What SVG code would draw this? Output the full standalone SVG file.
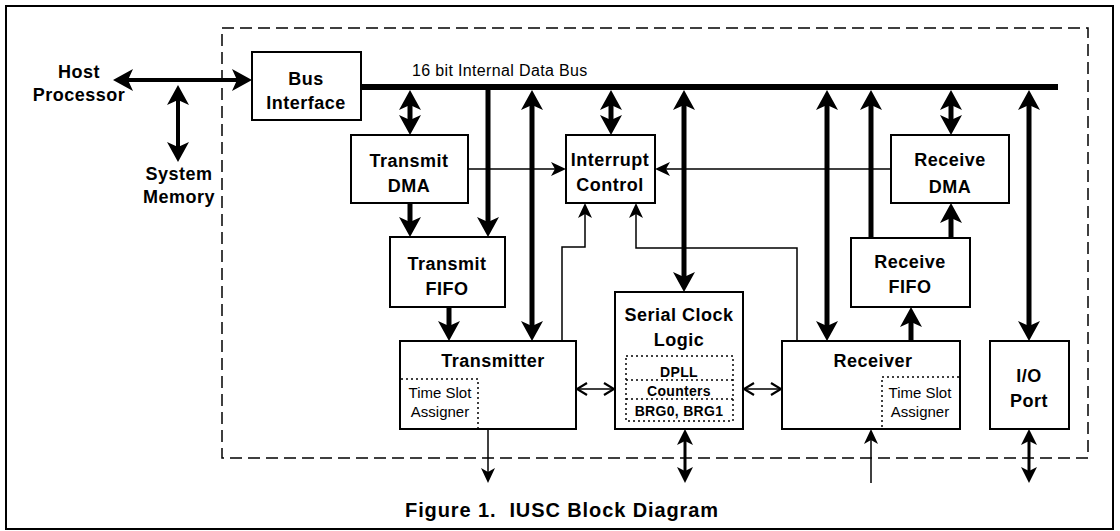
<svg xmlns="http://www.w3.org/2000/svg" width="1120" height="531" viewBox="0 0 1120 531">
<style>
.box{fill:#fff;stroke:#000;stroke-width:2}
.lbl{font-family:"Liberation Sans",Arial,sans-serif;font-weight:bold;font-size:18px;letter-spacing:0.5px;text-anchor:middle;fill:#000}
.sm{font-family:"Liberation Sans",Arial,sans-serif;font-size:15px;text-anchor:middle;fill:#000}
.smb{font-family:"Liberation Sans",Arial,sans-serif;font-weight:bold;font-size:14px;letter-spacing:0.3px;text-anchor:middle;fill:#000}
.dot{fill:none;stroke:#000;stroke-width:1.5;stroke-dasharray:2 3}
.thick{fill:none;stroke:#000;stroke-width:5}
.med{fill:none;stroke:#000;stroke-width:3}
.thin{fill:none;stroke:#000;stroke-width:1.5}
</style>
<defs>
<marker id="ab" markerUnits="userSpaceOnUse" markerWidth="20" markerHeight="22" viewBox="0 0 20 22" refX="5" refY="11" orient="auto-start-reverse"><path d="M0,0 L20,11 L0,22 L5,11 z" fill="#000"/></marker>
<marker id="am" markerUnits="userSpaceOnUse" markerWidth="16" markerHeight="16" viewBox="0 0 16 16" refX="4" refY="8" orient="auto-start-reverse"><path d="M0,0 L16,8 L0,16 L4,8 z" fill="#000"/></marker>
<marker id="as" markerUnits="userSpaceOnUse" markerWidth="15" markerHeight="14" viewBox="0 0 15 14" refX="4" refY="7" orient="auto-start-reverse"><path d="M0,0 L15,7 L0,14 L4,7 z" fill="#000"/></marker>
<marker id="ao" markerUnits="userSpaceOnUse" markerWidth="14" markerHeight="14" viewBox="0 0 14 14" refX="12" refY="7" orient="auto-start-reverse"><path d="M2,1 L12,7 L2,13" fill="none" stroke="#000" stroke-width="2.2"/></marker>
</defs>
<rect x="6" y="6" width="1107" height="523" fill="#fff" stroke="#000" stroke-width="2"/>
<rect x="222" y="28" width="866" height="430" fill="none" stroke="#000" stroke-width="1.5" stroke-dasharray="12 6"/>

<g id="connectors">
<line class="thick" x1="128" y1="80" x2="237" y2="80" marker-start="url(#ab)" marker-end="url(#ab)" style="stroke-width:4"/>
<line class="thick" x1="178" y1="100" x2="178" y2="147" marker-start="url(#ab)" marker-end="url(#ab)" style="stroke-width:4"/>
<line x1="361" y1="87" x2="1058" y2="87" stroke="#000" stroke-width="6"/>
<line class="thick" x1="410" y1="105" x2="410" y2="120" marker-start="url(#ab)" marker-end="url(#ab)"/>
<line class="thick" x1="410" y1="203" x2="410" y2="222" marker-end="url(#ab)"/>
<line class="thick" x1="488" y1="87" x2="488" y2="222" marker-end="url(#ab)"/>
<line class="thick" x1="532" y1="105" x2="532" y2="326" marker-start="url(#ab)" marker-end="url(#ab)"/>
<line class="thin" x1="468" y1="169" x2="555" y2="169" marker-end="url(#as)"/>
<line class="thick" x1="611" y1="105" x2="611" y2="120" marker-start="url(#ab)" marker-end="url(#ab)"/>
<line class="thick" x1="684" y1="105" x2="684" y2="277" marker-start="url(#ab)" marker-end="url(#ab)"/>
<line class="thin" x1="891" y1="169" x2="666" y2="169" marker-end="url(#as)"/>
<path class="thin" d="M562,341 V247 H585 V214" marker-end="url(#as)"/>
<path class="thin" d="M797,341 V248 H636 V214" marker-end="url(#as)"/>
<line class="thick" x1="827" y1="105" x2="827" y2="326" marker-start="url(#ab)" marker-end="url(#ab)"/>
<line class="thick" x1="871" y1="238" x2="871" y2="105" marker-end="url(#ab)"/>
<line class="thick" x1="951" y1="238" x2="951" y2="218" marker-end="url(#ab)"/>
<line class="thick" x1="951" y1="105" x2="951" y2="120" marker-start="url(#ab)" marker-end="url(#ab)"/>
<line class="thick" x1="911" y1="341" x2="911" y2="322" marker-end="url(#ab)"/>
<line class="thick" x1="1029" y1="105" x2="1029" y2="326" marker-start="url(#ab)" marker-end="url(#ab)"/>
<line class="thick" x1="449" y1="307" x2="449" y2="326" marker-end="url(#ab)"/>
<line class="thin" x1="488" y1="429" x2="488" y2="472" marker-end="url(#as)"/>
<line class="thin" x1="577" y1="389" x2="614" y2="389" marker-start="url(#ao)" marker-end="url(#ao)"/>
<line class="thin" x1="744" y1="389" x2="781" y2="389" marker-start="url(#ao)" marker-end="url(#ao)"/>
<line class="med" x1="685" y1="441" x2="685" y2="471" marker-start="url(#am)" marker-end="url(#am)"/>
<line class="thin" x1="871" y1="483" x2="871" y2="440" marker-end="url(#as)"/>
<line class="med" x1="1029" y1="441" x2="1029" y2="471" marker-start="url(#am)" marker-end="url(#am)"/>
</g>

<g id="host">
<text class="lbl" x="79" y="78">Host</text>
<text class="lbl" x="79" y="101">Processor</text>
</g>
<g id="memory">
<text class="lbl" x="179" y="180">System</text>
<text class="lbl" x="179" y="203">Memory</text>
</g>
<text id="buslabel" x="412" y="76" font-family="Liberation Sans, Arial, sans-serif" font-size="16" letter-spacing="0.35">16 bit Internal Data Bus</text>

<g id="bus-interface">
<rect class="box" x="252" y="52" width="109" height="68"/>
<text class="lbl" x="306" y="85">Bus</text>
<text class="lbl" x="306" y="109">Interface</text>
</g>
<g id="transmit-dma">
<rect class="box" x="351" y="135" width="117" height="68"/>
<text class="lbl" x="409" y="167">Transmit</text>
<text class="lbl" x="409" y="192">DMA</text>
</g>
<g id="transmit-fifo">
<rect class="box" x="390" y="237" width="115" height="70"/>
<text class="lbl" x="447" y="270">Transmit</text>
<text class="lbl" x="447" y="295">FIFO</text>
</g>
<g id="interrupt-control">
<rect class="box" x="566" y="135" width="89" height="68"/>
<text class="lbl" x="610" y="166">Interrupt</text>
<text class="lbl" x="610" y="191">Control</text>
</g>
<g id="receive-dma">
<rect class="box" x="891" y="135" width="118" height="68"/>
<text class="lbl" x="950" y="166">Receive</text>
<text class="lbl" x="950" y="193">DMA</text>
</g>
<g id="receive-fifo">
<rect class="box" x="851" y="238" width="119" height="69"/>
<text class="lbl" x="910" y="268">Receive</text>
<text class="lbl" x="910" y="293">FIFO</text>
</g>
<g id="transmitter">
<rect class="box" x="400" y="341" width="176" height="88"/>
<text class="lbl" x="493" y="367">Transmitter</text>
<path class="dot" d="M401,379 H478 V428"/>
<text class="sm" x="440" y="398">Time Slot</text>
<text class="sm" x="440" y="417">Assigner</text>
</g>
<g id="serial-clock-logic">
<rect class="box" x="615" y="292" width="128" height="137"/>
<text class="lbl" x="679" y="321">Serial Clock</text>
<text class="lbl" x="679" y="346">Logic</text>
<rect class="dot" x="626" y="356" width="107" height="65"/>
<line class="dot" x1="626" y1="380" x2="733" y2="380"/>
<line class="dot" x1="626" y1="399" x2="733" y2="399"/>
<text class="smb" x="679" y="377">DPLL</text>
<text class="smb" x="679" y="396">Counters</text>
<text class="smb" x="679" y="416">BRG0, BRG1</text>
</g>
<g id="receiver">
<rect class="box" x="782" y="341" width="178" height="88"/>
<text class="lbl" x="873" y="367">Receiver</text>
<path class="dot" d="M959,377 H882 V428"/>
<text class="sm" x="920" y="398">Time Slot</text>
<text class="sm" x="920" y="417">Assigner</text>
</g>
<g id="io-port">
<rect class="box" x="990" y="341" width="79" height="88"/>
<text class="lbl" x="1029" y="382">I/O</text>
<text class="lbl" x="1029" y="407">Port</text>
</g>
<text id="caption" class="lbl" x="562" y="517" xml:space="preserve" style="font-size:20px;letter-spacing:0.9px">Figure 1.  IUSC Block Diagram</text>
</svg>
